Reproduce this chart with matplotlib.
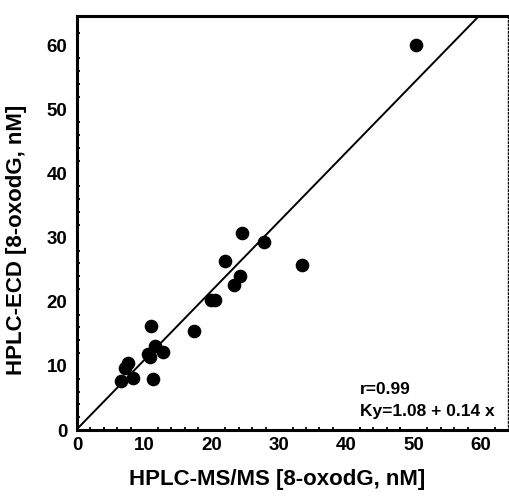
import matplotlib.pyplot as plt
import numpy as np

# valeurs (nM)
ms_msms = [50.4, 24.5, 27.7, 22.0, 33.4, 24.2, 23.3, 19.9, 20.5, 17.3,
           11.0, 11.6, 12.7, 10.6, 10.8, 7.6, 7.1, 8.3, 6.5, 11.3]
ecd = [60.0, 30.8, 29.3, 26.3, 25.8, 24.1, 22.7, 20.3, 20.3, 15.4,
       16.3, 13.1, 12.2, 11.9, 11.4, 10.5, 9.7, 8.1, 7.6, 7.9]

# droite de regression y = pente * x + ordonnee
pente = 1.08
ordonnee = 0.14
ticks = [0, 10, 20, 30, 40, 50, 60]

plt.rcParams["font.family"] = ["Liberation Sans", "DejaVu Sans"]

fig = plt.figure(figsize=(5.09, 4.98), dpi=100)
ax = fig.add_axes([77 / 509, 68 / 498, 431 / 509, 414 / 498])

xs = np.array([0, 70])
ax.plot(xs, pente * xs + ordonnee, color="black", linewidth=1.4)

ax.plot(ms_msms, ecd, "o", color="black", markersize=8.8, clip_on=False)

ax.set_xlim(0, 64.0)
ax.set_ylim(0, 64.6)
ax.set_xticks(ticks)
ax.set_yticks(ticks)
ax.set_xticklabels([str(t) for t in ticks], fontsize=13.5, fontweight="bold")
ax.set_yticklabels([str(t) for t in ticks], fontsize=13.5, fontweight="bold")
ax.tick_params(which="major", length=0)
ax.tick_params(axis="x", pad=5)
ax.tick_params(axis="y", pad=7)
ax.set_xticks(np.arange(0, 64, 2), minor=True)
ax.set_yticks(np.arange(0, 64, 2), minor=True)
ax.tick_params(which="minor", direction="in", length=2.5, width=1.3)

for cote in ["left", "bottom", "top"]:
    ax.spines[cote].set_linewidth(2.2)
ax.spines["right"].set_linewidth(1)
ax.spines["right"].set_linestyle(":")

ax.set_xlabel("HPLC-MS/MS [8-oxodG, nM]", fontsize=16, fontweight="bold")
ax.set_ylabel("HPLC-ECD [8-oxodG, nM]", fontsize=16, fontweight="bold")
ax.xaxis.set_label_coords(0.464, -0.095)
ax.yaxis.set_label_coords(-0.115, 0.459)

ax.text(0.657, 0.097, "r=0.99", transform=ax.transAxes, fontsize=12.5,
        fontweight="bold", va="center")
ax.text(0.657, 0.044, "Ky=1.08 + 0.14 x", transform=ax.transAxes, fontsize=12.5,
        fontweight="bold", va="center")

fig.savefig("out.png", dpi=100)
